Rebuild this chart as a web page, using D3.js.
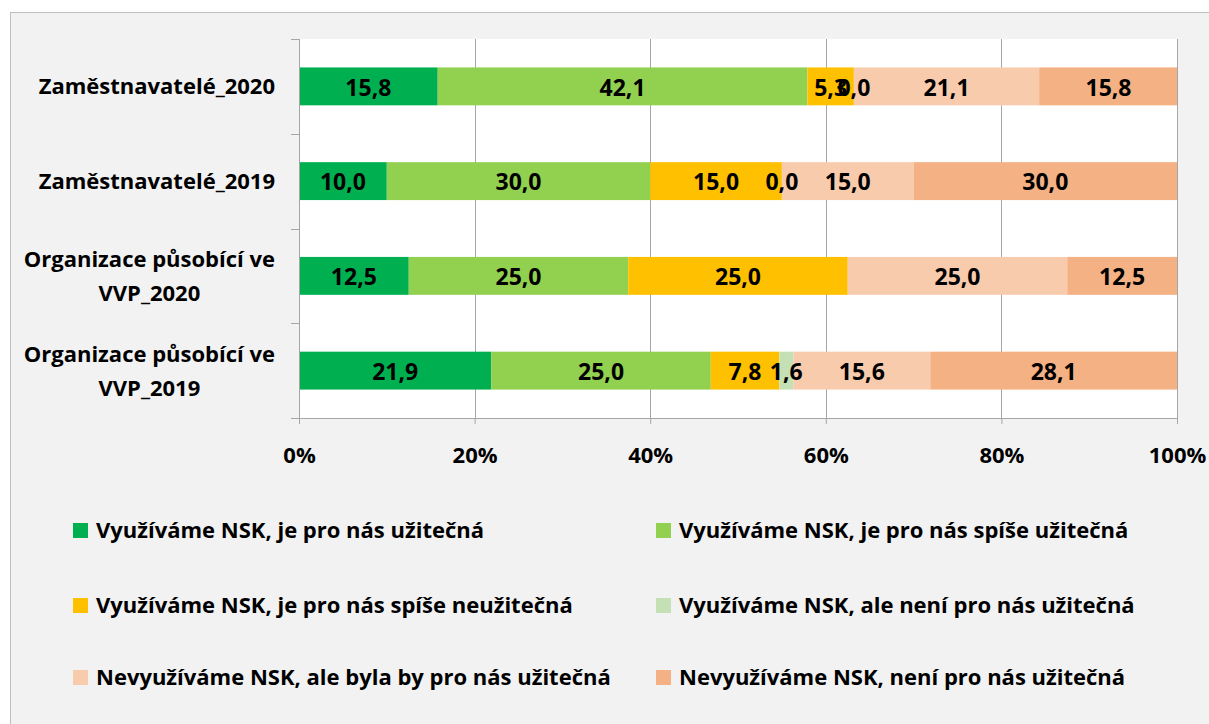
<!DOCTYPE html>
<html>
<head>
<meta charset="utf-8">
<script src="https://cdn.jsdelivr.net/npm/d3@7"></script>
<style>
  body { margin: 0; background: #fff; }
  svg { display: block; font-family: "Open Sans", sans-serif; }
</style>
</head>
<body>
<div id="chart"></div>
<script>
// categories, top to bottom
const categories = [
    ['Zaměstnavatelé_2020'],
    ['Zaměstnavatelé_2019'],
    ['Organizace působící ve', 'VVP_2020'],
    ['Organizace působící ve', 'VVP_2019']
];

const seriesNames = [
    'Využíváme NSK, je pro nás užitečná',
    'Využíváme NSK, je pro nás spíše užitečná',
    'Využíváme NSK, je pro nás spíše neužitečná',
    'Využíváme NSK, ale není pro nás užitečná',
    'Nevyužíváme NSK, ale byla by pro nás užitečná',
    'Nevyužíváme NSK, není pro nás užitečná'
];

const seriesColors = ['#00b050', '#92d050', '#ffc000', '#c5e0b4', '#f8cbad', '#f4b183'];

// one array per series, values per category (null = no value)
const usefulValues       = [15.8, 10.0, 12.5, 21.9];
const ratherUsefulValues = [42.1, 30.0, 25.0, 25.0];
const ratherUselessValues = [5.3, 15.0, 25.0, 7.8];
const uselessValues      = [0.0, 0.0, null, 1.6];
const wouldBeUsefulValues = [21.1, 15.0, 25.0, 15.6];
const notUsefulValues    = [15.8, 30.0, 12.5, 28.1];

const xTicks = [0, 20, 40, 60, 80, 100];

const seriesValues = [usefulValues, ratherUsefulValues, ratherUselessValues,
    uselessValues, wouldBeUsefulValues, notUsefulValues];

const W = 1209, H = 724;
const margin = {top: 39, left: 299, right: 32, bottom: 306};
const fontSize = '22px';

const svg = d3.select('#chart').append('svg')
    .attr('width', W)
    .attr('height', H);

// outer chart frame
svg.append('rect')
    .attr('x', 10.5).attr('y', 12.5)
    .attr('width', W + 20).attr('height', H + 20)
    .attr('fill', '#f2f2f2')
    .attr('stroke', '#bfbfbf')
    .attr('stroke-width', 1);

const x = d3.scaleLinear()
    .domain([0, 100])
    .range([margin.left, W - margin.right]);

const y = d3.scaleBand()
    .domain(categories.map((d, i) => i))
    .range([margin.top, H - margin.bottom])
    .paddingInner(0.6)
    .paddingOuter(0.3);

// plot area
svg.append('rect')
    .attr('x', x(0)).attr('y', margin.top)
    .attr('width', x(100) - x(0))
    .attr('height', H - margin.bottom - margin.top)
    .attr('fill', '#fff');

// gridlines
svg.append('g')
    .selectAll('line')
    .data(xTicks.slice(1))
    .enter().append('line')
    .attr('x1', d => Math.round(x(d)) + 0.5)
    .attr('x2', d => Math.round(x(d)) + 0.5)
    .attr('y1', margin.top)
    .attr('y2', H - margin.bottom)
    .attr('stroke', '#a6a6a6')
    .attr('stroke-width', 1);

// stack the series
const stacked = categories.map((c, ci) => {
    let acc = 0;
    return seriesValues.map((vals, si) => {
        const v = vals[ci];
        const seg = {ci, si, v, x0: acc, x1: acc + (v || 0)};
        acc += v || 0;
        return seg;
    });
});
const segments = stacked.flat();

svg.append('g')
    .selectAll('rect')
    .data(segments.filter(d => d.v))
    .enter().append('rect')
    .attr('x', d => x(d.x0))
    .attr('y', d => y(d.ci))
    .attr('width', d => x(Math.min(d.x1, 100)) - x(d.x0))
    .attr('height', y.bandwidth())
    .attr('fill', d => seriesColors[d.si]);

// data labels
const fmt = v => v.toFixed(1).replace('.', ',');
svg.append('g')
    .selectAll('text')
    .data(segments.filter(d => d.v !== null))
    .enter().append('text')
    .attr('x', d => x(Math.min((d.x0 + d.x1) / 2, 100)))
    .attr('y', d => y(d.ci) + y.bandwidth() / 2)
    .attr('dy', '0.4em')
    .attr('text-anchor', 'middle')
    .style('font-size', '23px')
    .style('font-weight', 'bold')
    .attr('fill', '#000')
    .text(d => fmt(d.v));

// y axis line + ticks
const axisColor = '#a6a6a6';
svg.append('line')
    .attr('x1', x(0) + 0.5).attr('x2', x(0) + 0.5)
    .attr('y1', margin.top).attr('y2', H - margin.bottom + 6)
    .attr('stroke', axisColor);
const bandEdges = [margin.top].concat(categories.map((c, i) => y(i) + y.bandwidth() + y.step() * 0.3));
svg.append('g')
    .selectAll('line')
    .data(bandEdges)
    .enter().append('line')
    .attr('x1', x(0) - 8).attr('x2', x(0))
    .attr('y1', d => Math.round(d) + 0.5)
    .attr('y2', d => Math.round(d) + 0.5)
    .attr('stroke', axisColor);

// x axis
const xAxis = svg.append('g')
    .attr('transform', `translate(0,${H - margin.bottom})`)
    .call(d3.axisBottom(x).tickValues(xTicks).tickSize(6).tickPadding(23).tickFormat(d => d + '%'));
xAxis.select('.domain').attr('stroke', axisColor);
xAxis.selectAll('.tick line').attr('stroke', axisColor);
xAxis.selectAll('text')
    .attr('fill', '#000')
    .style('font-family', '"Open Sans", sans-serif')
    .style('font-size', fontSize)
    .style('font-weight', 'bold');

// category labels (multi-line labels centred as a block, right-aligned)
const labelRight = 275;
categories.forEach((lines, i) => {
    const cy = y(i) + y.bandwidth() / 2;
    const g = svg.append('g');
    const texts = lines.map((line, li) => g.append('text')
        .attr('y', cy + (li - (lines.length - 1) / 2) * 34)
        .attr('dy', '0.36em')
        .attr('text-anchor', 'middle')
        .style('font-size', fontSize)
        .style('font-weight', 'bold')
        .text(line));
    const maxW = d3.max(texts, t => t.node().getComputedTextLength());
    texts.forEach(t => t.attr('x', labelRight - maxW / 2));
});

// legend
const legendCols = [73, 656];
const legendRows = [530, 605, 677];
const legend = svg.append('g')
    .selectAll('g')
    .data(seriesNames)
    .enter().append('g')
    .attr('transform', (d, i) => `translate(${legendCols[i % 2]},${legendRows[Math.floor(i / 2)]})`);
legend.append('rect')
    .attr('x', 0).attr('y', -7)
    .attr('width', 15).attr('height', 15)
    .attr('fill', (d, i) => seriesColors[i]);
legend.append('text')
    .attr('x', 23)
    .attr('dy', '0.36em')
    .style('font-size', fontSize)
    .style('font-weight', 'bold')
    .text(d => d);
</script>
</body>
</html>
